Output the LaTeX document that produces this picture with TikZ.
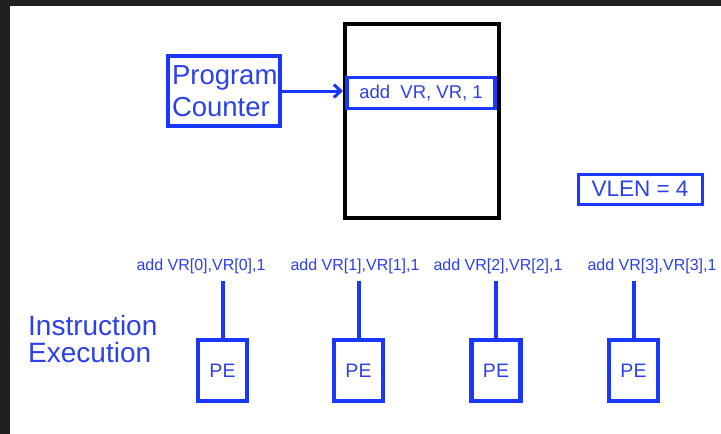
\documentclass[tikz,border=0pt]{standalone}
\usepackage{fontspec}
\setmainfont{Liberation Sans}
\usetikzlibrary{arrows.meta}
\definecolor{bl}{RGB}{25,55,255}
\definecolor{tb}{RGB}{45,65,235}
\definecolor{frame}{RGB}{32,32,32}
\begin{document}
\begin{tikzpicture}[x=1pt,y=-1pt,
  bbox/.style={draw=bl,line width=3.5pt,inner sep=0pt},
  lbl/.style={text=tb,inner sep=0pt,font=\fontsize{16}{17}\selectfont},
  pebox/.style={draw=bl,line width=4.5pt,minimum width=49pt,minimum height=61pt,inner sep=0pt,text=tb,font=\fontsize{19.5}{21}\selectfont},
  link/.style={draw=bl,line width=4pt,shorten >=7pt}]
\fill[frame] (0,0) rectangle (721,434);
\fill[white] (10,6) rectangle (721,434);
\useasboundingbox (0,0) rectangle (721,434);

% program counter
\node[bbox,minimum width=112pt,minimum height=70pt,text width=104pt,align=left,
  text=tb,font=\fontsize{27.5}{32}\selectfont] (pc) at (224,91) {Program\\Counter};

% memory
\node[draw=black,line width=4pt,minimum width=154pt,minimum height=194pt,inner sep=0pt] (mem) at (422,121) {};
\node[bbox,minimum width=148pt,minimum height=31pt,text=tb,font=\fontsize{18.5}{20}\selectfont] (row) at (421,93) {add\ \ VR, VR, 1};

\draw[bl,line width=3pt,-{Straight Barb[length=7pt,width=13pt,line width=3pt]}] (pc.east) -- (pc.east -| mem.west);

% VLEN
\node[bbox,line width=3pt,minimum width=124pt,minimum height=30pt,text=tb,font=\fontsize{22.5}{24}\selectfont] (vlen) at (640,189) {VLEN = 4};

% labels
\node[lbl] (l0) at (201,266) {add VR[0],VR[0],1};
\node[lbl] (l1) at (355,266) {add VR[1],VR[1],1};
\node[lbl] (l2) at (498,266) {add VR[2],VR[2],1};
\node[lbl] (l3) at (652,266) {add VR[3],VR[3],1};

% PEs
\node[pebox] (pe0) at (222.5,370.5) {PE};
\node[pebox] (pe1) at (358.5,370.5) {PE};
\node[pebox] (pe2) at (496,370.5) {PE};
\node[pebox] (pe3) at (633.5,370.5) {PE};

\draw[link] (pe0.north) -- (pe0.north |- l0.south);
\draw[link] (pe1.north) -- (pe1.north |- l1.south);
\draw[link] (pe2.north) -- (pe2.north |- l2.south);
\draw[link] (pe3.north) -- (pe3.north |- l3.south);

\node[anchor=west,align=left,inner sep=0pt,text=tb,font=\fontsize{28}{27}\selectfont] (ie) at (28,339) {Instruction\\Execution};
\end{tikzpicture}
\end{document}
